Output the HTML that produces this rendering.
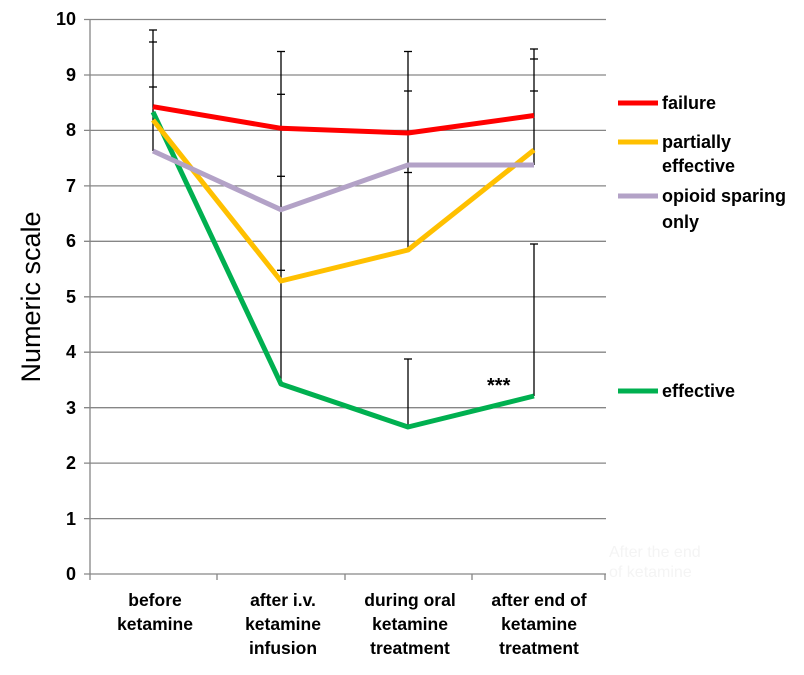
<!DOCTYPE html>
<html><head><meta charset="utf-8"><style>
body{margin:0;background:#fff}
svg text{font-family:"Liberation Sans",Arial,sans-serif}
</style></head><body>
<svg width="804" height="670" xmlns="http://www.w3.org/2000/svg">
<g stroke="#868686" stroke-width="1.3">
<line x1="84" y1="19.5" x2="606" y2="19.5"/>
<line x1="84" y1="75" x2="606" y2="75"/>
<line x1="84" y1="130.4" x2="606" y2="130.4"/>
<line x1="84" y1="185.9" x2="606" y2="185.9"/>
<line x1="84" y1="241.3" x2="606" y2="241.3"/>
<line x1="84" y1="296.8" x2="606" y2="296.8"/>
<line x1="84" y1="352.2" x2="606" y2="352.2"/>
<line x1="84" y1="407.7" x2="606" y2="407.7"/>
<line x1="84" y1="463.1" x2="606" y2="463.1"/>
<line x1="84" y1="518.6" x2="606" y2="518.6"/>
<line x1="84" y1="574" x2="606" y2="574"/>
<line x1="90" y1="19.5" x2="90" y2="580"/>
<line x1="217" y1="574" x2="217" y2="580"/>
<line x1="345" y1="574" x2="345" y2="580"/>
<line x1="472" y1="574" x2="472" y2="580"/>
<line x1="605" y1="574" x2="605" y2="580"/>
</g>
<g font-size="18" font-weight="bold" text-anchor="end" fill="#000">
<text x="76" y="25">10</text><text x="76" y="81">9</text><text x="76" y="136">8</text>
<text x="76" y="192">7</text><text x="76" y="247">6</text><text x="76" y="303">5</text>
<text x="76" y="358">4</text><text x="76" y="414">3</text><text x="76" y="469">2</text>
<text x="76" y="525">1</text><text x="76" y="580">0</text>
</g>
<text transform="translate(40,297) rotate(-90)" font-size="27" text-anchor="middle">Numeric scale</text>
<g stroke="#000" stroke-width="1.3">
<line x1="153" y1="30" x2="153" y2="151"/>
<line x1="149" y1="30" x2="157" y2="30"/><line x1="149" y1="42" x2="157" y2="42"/><line x1="149" y1="87" x2="157" y2="87"/>
<line x1="281" y1="51.5" x2="281" y2="384"/>
<line x1="277" y1="51.5" x2="285" y2="51.5"/><line x1="277" y1="94.3" x2="285" y2="94.3"/><line x1="277" y1="176.3" x2="285" y2="176.3"/><line x1="277" y1="270.3" x2="285" y2="270.3"/>
<line x1="408" y1="51.5" x2="408" y2="250"/>
<line x1="404" y1="51.5" x2="412" y2="51.5"/><line x1="404" y1="91" x2="412" y2="91"/><line x1="404" y1="172.5" x2="412" y2="172.5"/>
<line x1="408" y1="359" x2="408" y2="427"/><line x1="404" y1="359" x2="412" y2="359"/>
<line x1="534" y1="49" x2="534" y2="165"/>
<line x1="530" y1="49" x2="538" y2="49"/><line x1="530" y1="59" x2="538" y2="59"/><line x1="530" y1="91" x2="538" y2="91"/>
<line x1="534" y1="244" x2="534" y2="396"/><line x1="530" y1="244" x2="538" y2="244"/>
</g>
<g fill="none" stroke-width="5" stroke-linejoin="round">
<polyline stroke="#00b050" points="153,112 281,384 408,427 534,396"/>
<polyline stroke="#ffc000" points="153,120 281,281 408,250 534,150"/>
<polyline stroke="#b3a2c7" points="153,151 281,209.7 408,165 534,165"/>
<polyline stroke="#ff0000" points="153,106.7 281,128.3 408,133 534,115.5"/>
</g>
<text x="487" y="392" font-size="20" font-weight="bold">***</text>
<g stroke-width="5">
<line x1="618" y1="103" x2="658" y2="103" stroke="#ff0000"/>
<line x1="618" y1="142" x2="658" y2="142" stroke="#ffc000"/>
<line x1="618" y1="196" x2="658" y2="196" stroke="#b3a2c7"/>
<line x1="618" y1="391" x2="658" y2="391" stroke="#00b050"/>
</g>
<g font-size="18" font-weight="bold">
<text x="662" y="109">failure</text>
<text x="662" y="148">partially</text><text x="662" y="172">effective</text>
<text x="662" y="202">opioid sparing</text><text x="662" y="228">only</text>
<text x="662" y="397">effective</text>
</g>
<g font-size="17.5" font-weight="bold" text-anchor="middle">
<text x="155" y="606">before</text><text x="155" y="630">ketamine</text>
<text x="283" y="606">after i.v.</text><text x="283" y="630">ketamine</text><text x="283" y="654">infusion</text>
<text x="410" y="606">during oral</text><text x="410" y="630">ketamine</text><text x="410" y="654">treatment</text>
<text x="539" y="606">after end of</text><text x="539" y="630">ketamine</text><text x="539" y="654">treatment</text>
</g>
<g font-size="16" fill="#f4f4f4"><text x="609" y="557">After the end</text><text x="609" y="577">of ketamine</text></g>
</svg>
</body></html>
